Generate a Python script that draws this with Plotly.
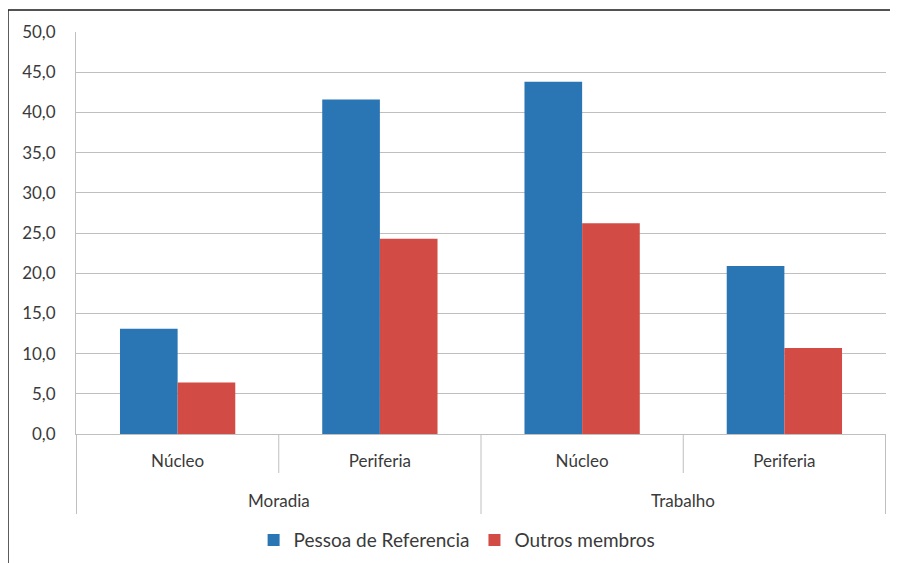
import plotly.graph_objects as go

groups = ["Moradia", "Moradia", "Trabalho", "Trabalho"]
locais = ["Núcleo", "Periferia", "Núcleo", "Periferia"]
pessoa_ref = [13.1, 41.6, 43.8, 20.9]
outros = [6.4, 24.3, 26.2, 10.7]
y_ticks = [0, 5, 10, 15, 20, 25, 30, 35, 40, 45, 50]
group_names = ["Moradia", "Trabalho"]

keys = [f"{g} | {l}" for g, l in zip(groups, locais)]
txt = "#3a3a3a"
grid = "#bfbfbf"
fs = 17

fig = go.Figure()
fig.add_trace(go.Bar(x=keys, y=pessoa_ref, name="Pessoa de Referencia",
                     marker=dict(color="#2a76b4", line=dict(width=0))))
fig.add_trace(go.Bar(x=keys, y=outros, name="Outros membros",
                     marker=dict(color="#d24b45", line=dict(width=0))))

shapes = []
# outer frame
shapes.append(dict(type="rect", xref="paper", yref="paper",
                   x0=-0.084, x1=1.05, y0=-0.5, y1=1.0547,
                   line=dict(color="#1a1a1a", width=1.5), fillcolor="rgba(0,0,0,0)",
                   layer="below"))
# category dividers below the axis
n = len(keys)
for i in range(n + 1):
    xb = i - 0.5
    long_line = (i % 2 == 0)
    shapes.append(dict(type="line", xref="x", yref="paper",
                       x0=xb, x1=xb, y0=0, y1=-(80 / 402) if long_line else -(39 / 402),
                       line=dict(color=grid, width=1)))

annotations = []
for j, g in enumerate(group_names):
    annotations.append(dict(x=2 * j + 0.5, xref="x", y=-(66 / 402), yref="paper",
                            text=g, showarrow=False, yanchor="middle",
                            font=dict(size=fs, color=txt)))

fig.update_layout(
    width=890, height=555,
    margin=dict(l=68, r=12, t=24, b=129, autoexpand=False),
    paper_bgcolor="white", plot_bgcolor="white",
    font=dict(family="Lato, Open Sans, sans-serif", size=fs, color=txt),
    separators=",.",
    barmode="group", bargap=0.43, bargroupgap=0,
    showlegend=True,
    legend=dict(orientation="h", x=0.4705, xanchor="center", y=-0.264, yanchor="middle",
                font=dict(size=19, color=txt), traceorder="normal",
                itemwidth=30),
    xaxis=dict(type="category", showline=True, linecolor=grid, linewidth=1,
               tickvals=keys, ticktext=locais, ticks="", showgrid=False,
               ticklabelstandoff=12, automargin=False,
               tickfont=dict(size=fs, color=txt)),
    yaxis=dict(range=[0, 50], tickvals=y_ticks, tickformat=".1f",
               showgrid=True, gridcolor=grid, gridwidth=1,
               showline=True, linecolor=grid, zeroline=False,
               ticks="", ticklabelstandoff=16, automargin=False,
               tickfont=dict(size=fs, color=txt)),
    shapes=shapes,
    annotations=annotations,
)

fig.write_html("out.html")
